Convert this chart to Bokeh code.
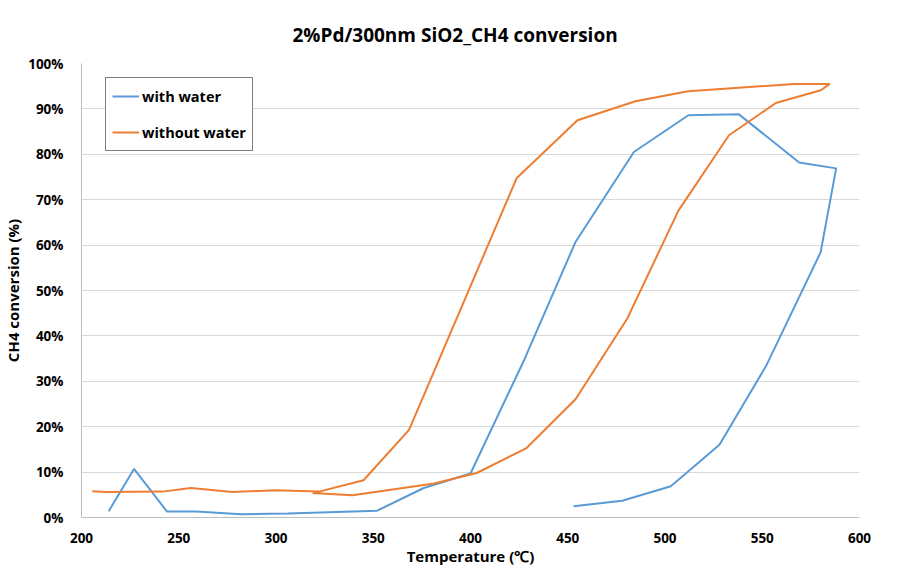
from bokeh.plotting import figure
from bokeh.models import Range1d, FixedTicker, PrintfTickFormatter, Legend, LegendItem
from bokeh.embed import file_html
from bokeh.resources import INLINE

title_text = "2%Pd/300nm SiO2_CH4 conversion"
x_label = "Temperature (\u2103)"
y_label = "CH4 conversion (%)"

with_water_T = [214, 227, 244, 259, 282, 306, 352, 376, 400, 427.6, 454, 484, 512, 538, 569, 588,
                580, 552, 528, 503, 478, 453]
with_water_C = [1.4, 10.7, 1.3, 1.3, 0.7, 0.9, 1.5, 6.5, 9.7, 34.7, 60.7, 80.5, 88.6, 88.8, 78.2, 76.9,
                58.4, 33.4, 16.0, 6.9, 3.7, 2.5]

without_water_T = [205.6, 212.5, 241.6, 256.2, 277.6, 299, 322.2, 345, 368.4, 423.8, 455, 484.8, 511.9,
                   566.4, 584.7, 580.1, 557, 532.9, 506.9, 480.7, 454.1, 428.8, 403.2, 381.3, 339.3, 318.8]
without_water_C = [5.8, 5.6, 5.7, 6.5, 5.6, 6.0, 5.7, 8.2, 19.3, 74.8, 87.5, 91.7, 93.9,
                   95.5, 95.5, 94.1, 91.3, 84.2, 67.6, 43.9, 26.1, 15.3, 9.8, 7.5, 4.9, 5.4]

x_ticks = [200, 250, 300, 350, 400, 450, 500, 550, 600]
y_ticks = [0, 10, 20, 30, 40, 50, 60, 70, 80, 90, 100]

FONT = "Open Sans"

p = figure(width=887, height=568, output_backend="svg", toolbar_location=None,
           x_range=Range1d(200, 600), y_range=Range1d(0, 100),
           min_border_left=70, min_border_right=28, min_border_top=63, min_border_bottom=51)

p.title.text = title_text
p.title.align = "left"
p.title.offset = 211
p.title.text_font = FONT
p.title.text_font_size = "19px"
p.title.text_font_style = "bold"
p.title.text_color = "#000000"
p.title.standoff = 32

p.outline_line_color = None
p.xgrid.grid_line_color = None
p.ygrid.grid_line_color = "#D9D9D9"
p.ygrid.grid_line_width = 1

for ax in (p.xaxis[0], p.yaxis[0]):
    ax.axis_line_color = "#BFBFBF"
    ax.major_tick_line_color = None
    ax.minor_tick_line_color = None
    ax.major_label_text_font = FONT
    ax.major_label_text_font_size = "13.5px"
    ax.major_label_text_font_style = "bold"
    ax.major_label_text_color = "#000000"
    ax.axis_label_text_font = FONT
    ax.axis_label_text_font_size = "15px"
    ax.axis_label_text_font_style = "bold"
    ax.axis_label_text_color = "#000000"

p.xaxis[0].ticker = FixedTicker(ticks=x_ticks)
p.yaxis[0].ticker = FixedTicker(ticks=y_ticks)
p.yaxis[0].formatter = PrintfTickFormatter(format="%d%%")
p.xaxis[0].axis_label = x_label
p.yaxis[0].axis_label = y_label
p.xaxis[0].major_label_standoff = 9
p.yaxis[0].major_label_standoff = 12
p.xaxis[0].axis_label_standoff = 0
p.yaxis[0].axis_label_standoff = 2

r1 = p.line(with_water_T, with_water_C, line_color="#5B9BD5", line_width=2)
r2 = p.line(without_water_T, without_water_C, line_color="#ED7D31", line_width=2)

legend = Legend(items=[LegendItem(label="with water", renderers=[r1]),
                       LegendItem(label="without water", renderers=[r2])],
                location=(24, 366))
legend.border_line_color = "#000000"
legend.border_line_width = 1
legend.background_fill_color = "#FFFFFF"
legend.background_fill_alpha = 1
legend.label_text_font = FONT
legend.label_text_font_size = "14.5px"
legend.label_text_font_style = "bold"
legend.label_text_color = "#000000"
legend.glyph_width = 27
legend.glyph_height = 24
legend.label_height = 24
legend.label_standoff = 3
legend.spacing = 12
legend.padding = 6
legend.margin = 0
p.add_layout(legend, "center")

open("out.html", "w").write(file_html(p, INLINE))
